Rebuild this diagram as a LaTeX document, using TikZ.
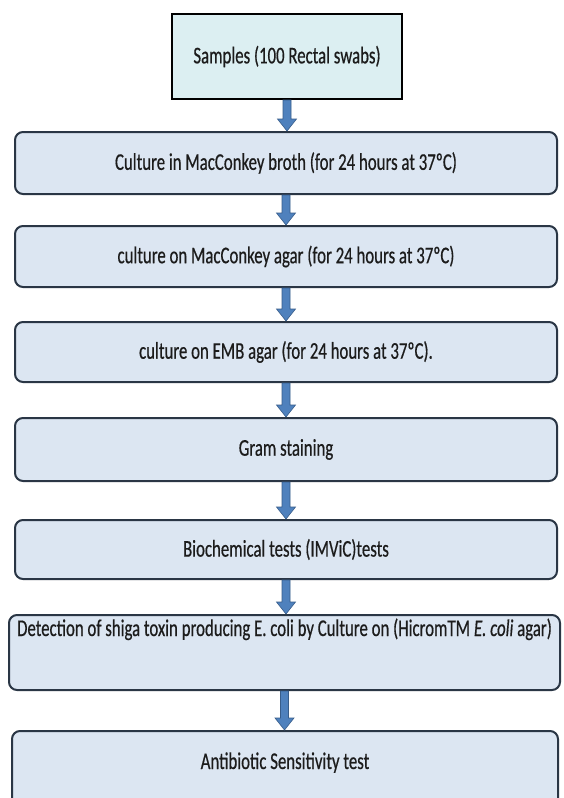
\documentclass[tikz,border=0pt]{standalone}
\usepackage{fontspec}
\setmainfont{Carlito}[FakeStretch=0.7,FakeBold=0.5]
\usetikzlibrary{calc}
\definecolor{boxfill}{HTML}{DCE6F2}
\definecolor{topfill}{HTML}{DCEFF2}
\definecolor{boxline}{HTML}{2A3645}
\definecolor{arrfill}{HTML}{4F81BD}
\definecolor{arrline}{HTML}{385D8A}
\definecolor{txt}{HTML}{1C1C1C}
\newcommand\blockarrow[2]{%
  \path[arrowshape] let \p1=(#1.south), \p2=(#2.north) in
    (\x1-4pt,\y1) -- (\x1+4pt,\y1) -- (\x1+4pt,\y2+12pt) -- (\x1+9.5pt,\y2+12pt)
    -- (\x1,\y2) -- (\x1-9.5pt,\y2+12pt) -- (\x1-4pt,\y2+12pt) -- cycle;}
\begin{document}
\begin{tikzpicture}[x=1pt,y=-1pt,
  txtfont/.style={font=\fontsize{24}{26}\selectfont, text=txt},
  stepbox/.style={draw=boxline, line width=2pt, fill=boxfill, rounded corners=8pt,
    inner sep=0pt, txtfont},
  topbox/.style={draw=black, line width=2pt, fill=topfill, minimum width=230pt,
    minimum height=85pt, inner sep=0pt, txtfont},
  arrowshape/.style={fill=arrfill, draw=arrline, line width=0.6pt}]
\fill[white] (0,0) rectangle (563,798);
\useasboundingbox (0,0) rectangle (563,798);

\node[topbox] (b1) at (287,56.5) {Samples (100 Rectal swabs)};
\node[stepbox, minimum width=542pt, minimum height=62pt] (b2) at (286,163)
  {Culture in MacConkey broth (for 24 hours at 37ºC)};
\node[stepbox, minimum width=542pt, minimum height=61pt] (b3) at (286,256.5)
  {culture on MacConkey agar (for 24 hours at 37ºC)};
\node[stepbox, minimum width=542pt, minimum height=60pt] (b4) at (286,352)
  {culture on EMB agar (for 24 hours at 37ºC).};
\node[stepbox, minimum width=542pt, minimum height=63pt] (b5) at (286,449.5)
  {Gram staining};
\node[stepbox, minimum width=542pt, minimum height=59pt] (b6) at (286,549.5)
  {Biochemical tests (IMViC)tests};
\node[stepbox, minimum width=551pt, text height=21pt, text depth=54pt, anchor=north] (b7) at (284.5,614)
  {Detection of shiga toxin producing E. coli by Culture on (HicromTM \textit{E. coli} agar)};
\node[stepbox, minimum width=546pt, text height=38pt, text depth=38pt, anchor=north] (b8) at (285,730)
  {Antibiotic Sensitivity test};

\blockarrow{b1}{b2}
\blockarrow{b2}{b3}
\blockarrow{b3}{b4}
\blockarrow{b4}{b5}
\blockarrow{b5}{b6}
\blockarrow{b6}{b7}
\blockarrow{b7}{b8}
\end{tikzpicture}
\end{document}
